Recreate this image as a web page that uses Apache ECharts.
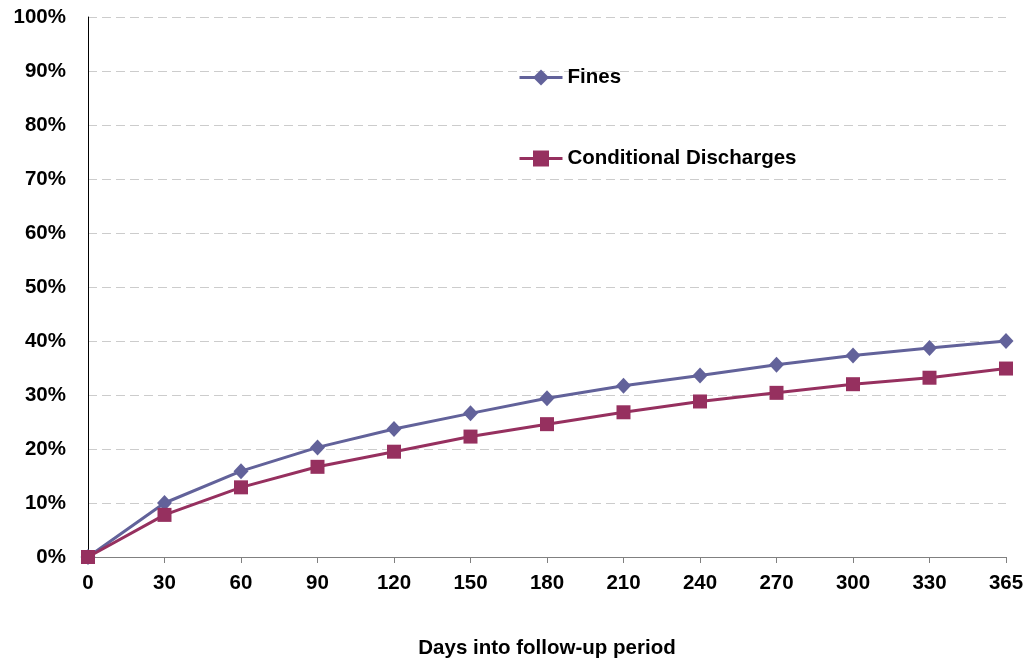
<!DOCTYPE html>
<html>
<head>
<meta charset="utf-8">
<script src="https://cdn.jsdelivr.net/npm/echarts@6/dist/echarts.min.js"></script>
<style>html,body{margin:0;padding:0;background:#fff}#c{width:1032px;height:663px}</style>
</head>
<body>
<div id="c"></div>
<script>
const categories = ['0','30','60','90','120','150','180','210','240','270','300','330','365'];
const fines = [0, 10.0, 15.9, 20.3, 23.7, 26.6, 29.4, 31.7, 33.6, 35.6, 37.3, 38.7, 40.0];
const conditional = [0, 7.8, 12.9, 16.7, 19.5, 22.3, 24.6, 26.8, 28.8, 30.4, 32.0, 33.2, 34.9];
const seriesNames = ['Fines', 'Conditional Discharges'];
const xAxisTitle = 'Days into follow-up period';

const chart = echarts.init(document.getElementById('c'));
const font = 'Liberation Sans, Arial, sans-serif';
chart.setOption({
  animation: false,
  backgroundColor: '#fff',
  textStyle: { fontFamily: font },
  grid: { left: 88, right: 26, top: 17, bottom: 106, containLabel: false, outerBoundsMode: 'none' },
  legend: {
    orient: 'vertical',
    left: 513,
    top: 62,
    itemWidth: 43,
    itemHeight: 20,
    itemGap: 60,
    lineStyle: { width: 3 },
    textStyle: { fontFamily: font, fontWeight: 'bold', fontSize: 20.5, color: '#000' },
    data: seriesNames
  },
  xAxis: {
    type: 'category',
    data: categories,
    boundaryGap: false,
    name: xAxisTitle,
    nameLocation: 'middle',
    nameGap: 81,
    nameTextStyle: { fontFamily: font, fontWeight: 'bold', fontSize: 20.5, color: '#000' },
    axisLine: { lineStyle: { color: '#808080', width: 1 } },
    axisTick: { show: true, alignWithLabel: true, length: 6, lineStyle: { color: '#808080' } },
    axisLabel: { fontFamily: font, fontWeight: 'bold', fontSize: 20.5, color: '#000', margin: 16 },
    splitLine: { show: false }
  },
  yAxis: {
    type: 'value',
    min: 0,
    max: 100,
    interval: 10,
    axisLine: { show: true, lineStyle: { color: '#000', width: 1 } },
    axisTick: { show: false },
    axisLabel: { fontFamily: font, fontWeight: 'bold', fontSize: 20.5, color: '#000', margin: 22, formatter: '{value}%' },
    splitLine: { show: true, lineStyle: { color: '#cccccc', type: [9, 5], width: 1 } }
  },
  series: [
    {
      name: seriesNames[0],
      type: 'line',
      data: fines,
      symbol: 'diamond',
      symbolSize: [15, 16],
      lineStyle: { color: '#62629A', width: 3 },
      itemStyle: { color: '#62629A' },
      z: 2
    },
    {
      name: seriesNames[1],
      type: 'line',
      data: conditional,
      symbol: 'rect',
      symbolSize: 14,
      lineStyle: { color: '#96305F', width: 3 },
      itemStyle: { color: '#96305F' },
      z: 3
    }
  ]
});
</script>
</body>
</html>
